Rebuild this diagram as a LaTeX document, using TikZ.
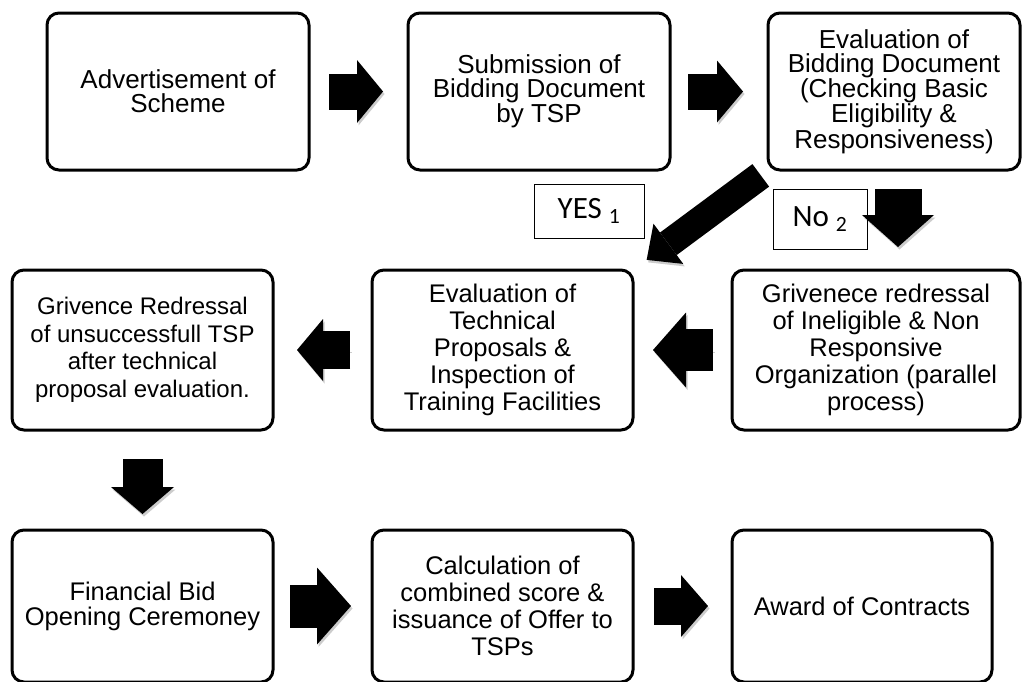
\documentclass[tikz,border=0pt]{standalone}
\usepackage{fontspec}
\setmainfont{Liberation Sans}
\newfontfamily\tagfont{Carlito}
\usetikzlibrary{positioning,arrows.meta}

\begin{document}
\begin{tikzpicture}[
            x=1pt, y=-1pt,
            stage/.style={draw, line width=3pt, rounded corners=12pt, align=center,
                outer sep=0pt, inner sep=2pt, minimum width=261pt, minimum height=160pt,
                font=\fontsize{25.5}{27}\selectfont},
            toprow/.style={stage, minimum height=157pt, font=\fontsize{26}{24}\selectfont},
            lowrow/.style={stage, minimum height=152pt},
            tag/.style={draw, line width=0.8pt, inner sep=0pt, font=\tagfont\fontsize{31}{33}\selectfont},
            blk/.style n args={3}{line width=#1, -{Triangle[width=#2, length=#3, line width=0pt]},
                preaction={draw=black, opacity=0.2, transform canvas={shift={(1.5pt,-2.5pt)}}}}
        ]
        \useasboundingbox (0,0) rectangle (1022,681);

        % Draw first row %
        \node[toprow, anchor=north west, minimum width=262pt] (advert) at (47,13) {Advertisement of\\Scheme};
        \node[toprow, right=99pt of advert, minimum width=262pt] (submit) {Submission of\\Bidding Document\\by TSP};
        \node[toprow, right=98pt of submit, minimum width=252pt] (evalbid) {Evaluation of\\Bidding Document\\(Checking Basic\\Eligibility \&\\Responsiveness)};

        % Draw second row %
        \node[stage, anchor=north west, font=\fontsize{24}{27.5}\selectfont] (grieftech) at (12,270) {Grivence Redressal\\of unsuccessfull TSP\\after technical\\proposal evaluation.};
        \node[stage, right=99pt of grieftech] (evaltech) {Evaluation of\\Technical\\Proposals \&\\Inspection of\\Training Facilities};
        \node[stage, right=99pt of evaltech, minimum width=288pt] (griefbid) {Grivenece redressal\\of Ineligible \& Non\\Responsive\\Organization (parallel\\process)};

        % Draw third row %
        \node[lowrow, anchor=north west, font=\fontsize{25.5}{25}\selectfont] (finbid) at (12,530) {Financial Bid\\Opening Ceremoney};
        \node[lowrow, right=99pt of finbid] (score) {Calculation of\\combined score \&\\issuance of Offer to\\TSPs};
        \node[lowrow, right=99pt of score, minimum width=260pt] (award) {Award of Contracts};

        % Draw labels %
        \node[tag, minimum width=110pt, minimum height=54pt] (yes) at (589,211) {YES \textsubscript{1}};
        \node[tag, minimum width=94pt, minimum height=60pt] (no) at (820,219) {No \textsubscript{2}};

        % Draw arrows %
        \draw[blk={36pt}{63pt}{26pt}, shorten <=20pt, shorten >=25pt] (advert) -- (submit);
        \draw[blk={36pt}{62pt}{26pt}, shorten <=18pt, shorten >=25pt] (submit) -- (evalbid);
        \draw[blk={28pt}{50pt}{27pt}, shorten <=9pt, shorten >=17pt] (evalbid.south west) -- (evaltech.north east);
        \draw[blk={47pt}{72pt}{32pt}, shorten <=19pt, shorten >=23pt] ([xshift=4pt]evalbid.south) -- ([xshift=22pt]griefbid.north);
        \draw[blk={42pt}{75pt}{33pt}, shorten <=19pt, shorten >=20pt] (griefbid) -- (evaltech);
        \draw[blk={38pt}{62pt}{26pt}, shorten <=22pt, shorten >=24pt] (evaltech) -- (grieftech);
        \draw[blk={40pt}{63pt}{27pt}, shorten <=29pt, shorten >=16pt] (grieftech) -- (finbid);
        \draw[blk={43pt}{77pt}{34pt}, shorten <=17pt, shorten >=21pt] (finbid) -- (score);
        \draw[blk={37pt}{62pt}{27pt}, shorten <=21pt, shorten >=24pt] (score) -- (award);
\end{tikzpicture}
\end{document}
